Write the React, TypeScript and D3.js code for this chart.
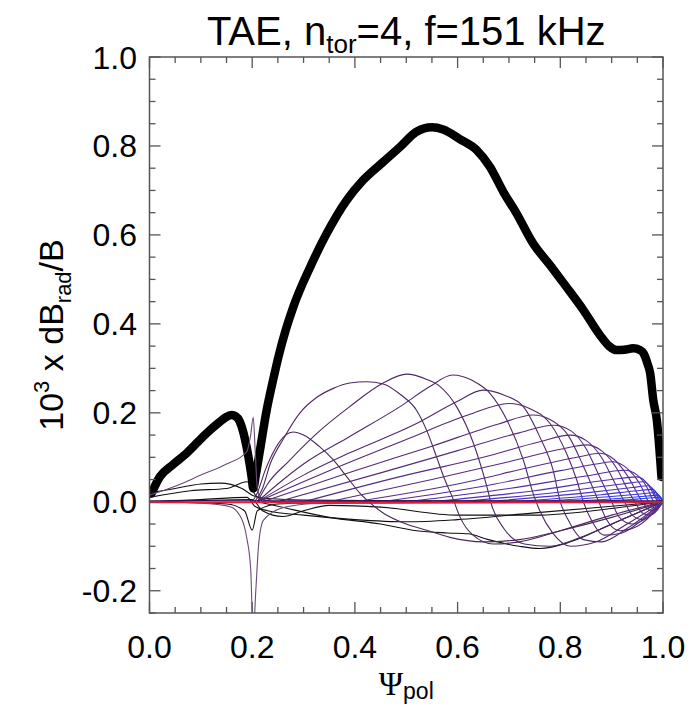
import React from "react";
import * as d3 from "d3";

// ---------- tick labels ----------
const xTickValues = [0, 0.2, 0.4, 0.6, 0.8, 1.0];
const xTickLabels = ["0.0", "0.2", "0.4", "0.6", "0.8", "1.0"];
const yTickValues = [-0.2, 0, 0.2, 0.4, 0.6, 0.8, 1.0];
const yTickLabels = ["-0.2", "0.0", "0.2", "0.4", "0.6", "0.8", "1.0"];

// ---------- total amplitude (thick black) ----------
const totalAmp: [number, number][] = [
  [0.004, 0.019], [0.02, 0.056], [0.045, 0.083], [0.072, 0.109], [0.111, 0.154],
  [0.135, 0.178], [0.15, 0.191], [0.16, 0.195], [0.168, 0.192], [0.176, 0.18],
  [0.183, 0.155], [0.189, 0.124], [0.195, 0.085], [0.199, 0.055], [0.202, 0.03],
  [0.207, 0.06], [0.215, 0.115], [0.228, 0.205], [0.24, 0.27], [0.252, 0.33],
  [0.265, 0.385], [0.28, 0.438], [0.313, 0.528], [0.345, 0.603], [0.384, 0.678],
  [0.416, 0.723], [0.455, 0.764], [0.488, 0.798], [0.52, 0.832], [0.55, 0.842],
  [0.572, 0.837], [0.605, 0.815], [0.637, 0.791], [0.663, 0.753], [0.689, 0.697],
  [0.715, 0.648], [0.747, 0.581], [0.78, 0.532], [0.812, 0.483], [0.845, 0.431],
  [0.877, 0.375], [0.895, 0.35], [0.91, 0.341], [0.925, 0.342], [0.942, 0.345],
  [0.955, 0.341], [0.962, 0.334], [0.97, 0.31], [0.975, 0.289], [0.981, 0.229],
  [0.988, 0.184], [0.997, 0.056],
];

// ---------- poloidal harmonics (thin) ----------
const lobe01: [number, number][] = [[0.2, 0], [0.21, 0.02], [0.225, 0.07], [0.245, 0.12], [0.265, 0.15], [0.28, 0.157], [0.3, 0.15], [0.33, 0.125], [0.358, 0.094], [0.385, 0.055], [0.41, 0.019], [0.455, -0.025], [0.5, -0.05], [0.54, -0.064], [0.585, -0.08], [0.65, -0.09], [0.72, -0.085], [0.8, -0.065], [0.9, -0.035], [1.0, 0]];
const lobe02: [number, number][] = [[0.205, 0], [0.22, 0.03], [0.235, 0.085], [0.26, 0.14], [0.293, 0.2], [0.326, 0.235], [0.358, 0.255], [0.39, 0.267], [0.423, 0.27], [0.455, 0.265], [0.49, 0.24], [0.52, 0.206], [0.54, 0.16], [0.559, 0.101], [0.575, 0.05], [0.59, 0.01], [0.605, -0.035], [0.63, -0.075], [0.67, -0.095], [0.72, -0.09], [0.8, -0.065], [0.9, -0.03], [1.0, 0]];
const lobe03: [number, number][] = [[0.21, 0], [0.23, 0.04], [0.27, 0.09], [0.326, 0.154], [0.39, 0.214], [0.455, 0.267], [0.501, 0.287], [0.54, 0.275], [0.566, 0.259], [0.598, 0.214], [0.631, 0.131], [0.657, 0.034], [0.667, -0.01], [0.69, -0.06], [0.73, -0.095], [0.78, -0.1], [0.85, -0.075], [0.93, -0.035], [1.0, 0]];
const lobe04: [number, number][] = [[0.21, 0], [0.25, 0.04], [0.3, 0.085], [0.39, 0.147], [0.488, 0.214], [0.546, 0.259], [0.59, 0.285], [0.63, 0.272], [0.663, 0.244], [0.696, 0.184], [0.728, 0.094], [0.747, 0.019], [0.76, -0.02], [0.785, -0.07], [0.82, -0.1], [0.87, -0.09], [0.93, -0.05], [1.0, 0]];
const lobe05: [number, number][] = [[0.21, 0], [0.3, 0.06], [0.39, 0.11], [0.52, 0.176], [0.598, 0.225], [0.65, 0.251], [0.69, 0.24], [0.728, 0.214], [0.76, 0.146], [0.786, 0.071], [0.8, 0], [0.815, -0.04], [0.845, -0.085], [0.88, -0.09], [0.93, -0.06], [1.0, 0]];
const lobe06: [number, number][] = [[0.21, 0], [0.35, 0.07], [0.5, 0.14], [0.62, 0.195], [0.7, 0.221], [0.74, 0.21], [0.78, 0.176], [0.812, 0.109], [0.832, 0.049], [0.845, 0], [0.86, -0.04], [0.885, -0.075], [0.92, -0.07], [0.96, -0.04], [1.0, 0]];
const lobe07: [number, number][] = [[0.22, 0], [0.4, 0.07], [0.55, 0.125], [0.68, 0.175], [0.747, 0.195], [0.78, 0.185], [0.815, 0.15], [0.845, 0.08], [0.875, 0], [0.89, -0.04], [0.915, -0.065], [0.95, -0.055], [1.0, 0]];
const lobe08: [number, number][] = [[0.25, 0], [0.45, 0.065], [0.6, 0.115], [0.72, 0.155], [0.786, 0.172], [0.82, 0.16], [0.85, 0.12], [0.875, 0.06], [0.9, 0], [0.915, -0.035], [0.94, -0.05], [0.97, -0.035], [1.0, 0]];
const lobe09: [number, number][] = [[0.3, 0], [0.5, 0.06], [0.65, 0.1], [0.76, 0.135], [0.819, 0.15], [0.85, 0.138], [0.88, 0.1], [0.905, 0.045], [0.925, 0], [0.94, -0.03], [0.96, -0.04], [0.985, -0.02], [1.0, 0]];
const lobe10: [number, number][] = [[0.35, 0], [0.55, 0.05], [0.7, 0.09], [0.8, 0.118], [0.851, 0.128], [0.88, 0.115], [0.91, 0.075], [0.93, 0.03], [0.945, 0], [0.96, -0.025], [0.975, -0.03], [1.0, 0]];
const lobe11: [number, number][] = [[0.4, 0], [0.6, 0.04], [0.75, 0.08], [0.84, 0.102], [0.877, 0.109], [0.905, 0.095], [0.93, 0.06], [0.96, 0], [0.975, -0.02], [0.99, -0.015], [1.0, 0]];
const lobe12: [number, number][] = [[0.45, 0], [0.65, 0.035], [0.8, 0.07], [0.87, 0.085], [0.903, 0.09], [0.93, 0.075], [0.955, 0.04], [0.972, 0], [0.985, -0.015], [1.0, 0]];
const lobe13: [number, number][] = [[0.5, 0], [0.7, 0.03], [0.85, 0.058], [0.926, 0.071], [0.95, 0.06], [0.97, 0.03], [0.982, 0], [0.992, -0.01], [1.0, 0]];
const lobe14: [number, number][] = [[0.55, 0], [0.75, 0.025], [0.9, 0.05], [0.949, 0.056], [0.97, 0.04], [0.985, 0.01], [0.993, -0.006], [1.0, 0]];
const lobe15: [number, number][] = [[0.6, 0], [0.8, 0.022], [0.92, 0.04], [0.962, 0.045], [0.978, 0.03], [0.99, 0.005], [1.0, 0]];
const lobe16: [number, number][] = [[0.65, 0], [0.85, 0.02], [0.94, 0.032], [0.972, 0.036], [0.985, 0.022], [0.994, 0.004], [1.0, 0]];
const lobe17: [number, number][] = [[0.7, 0], [0.88, 0.016], [0.95, 0.025], [0.98, 0.028], [0.99, 0.016], [1.0, 0]];
const lobe18: [number, number][] = [[0.75, 0], [0.9, 0.012], [0.96, 0.018], [0.986, 0.021], [0.994, 0.01], [1.0, 0]];
const lobe19: [number, number][] = [[0.8, 0], [0.93, 0.009], [0.97, 0.013], [0.991, 0.015], [1.0, 0]];
const lobe20: [number, number][] = [[0.85, 0], [0.95, 0.006], [0.98, 0.009], [0.995, 0.01], [1.0, 0]];

// ---------- low-m (black) harmonics, mostly negative ----------
const lowM1: [number, number][] = [[0.0, 0.0], [0.1, 0.005], [0.19, 0.01], [0.205, -0.01], [0.23, -0.02], [0.3, -0.03], [0.4, -0.04], [0.5, -0.045], [0.6, -0.04], [0.75, -0.025], [0.9, -0.01], [1.0, 0]];
const lowM2: [number, number][] = [[0.0, 0.0], [0.1, 0.003], [0.2, 0.005], [0.22, -0.02], [0.26, -0.033], [0.3, -0.02], [0.35, -0.008], [0.45, -0.012], [0.6, -0.03], [0.75, -0.03], [0.9, -0.015], [1.0, 0]];
const lowM3: [number, number][] = [[0.21, 0], [0.25, -0.01], [0.35, -0.035], [0.45, -0.05], [0.52, -0.065], [0.58, -0.07], [0.62, -0.072], [0.66, -0.085], [0.72, -0.1], [0.76, -0.105], [0.82, -0.09], [0.9, -0.05], [1.0, 0]];
const lowM4: [number, number][] = [[0.0, 0.02], [0.05, 0.03], [0.1, 0.04], [0.137, 0.042], [0.18, 0.03], [0.2, 0.015], [0.222, 0.008], [0.3, 0.004], [0.5, 0.002], [1.0, 0]];
const lowM5: [number, number][] = [[0.0, 0.015], [0.05, 0.035], [0.1, 0.06], [0.15, 0.085], [0.189, 0.112], [0.197, 0.15], [0.202, 0.19], [0.206, 0.11], [0.21, 0.03], [0.22, 0.0], [0.3, -0.004], [1.0, 0]];
const lowM6: [number, number][] = [[0.0, 0.0], [0.1, -0.003], [0.157, -0.011], [0.18, -0.04], [0.189, -0.079], [0.197, -0.15], [0.202, -0.3], [0.207, -0.2], [0.213, -0.09], [0.222, -0.041], [0.267, -0.011], [0.35, -0.002], [1.0, 0]];
const lowM7: [number, number][] = [[0.0, 0.0], [0.15, -0.005], [0.185, -0.02], [0.2, -0.064], [0.21, -0.02], [0.25, -0.005], [0.4, 0], [1.0, 0]];
const lowM8: [number, number][] = [[0.0, 0.01], [0.08, 0.025], [0.15, 0.03], [0.19, 0.045], [0.21, 0.01], [0.25, 0.0], [1.0, 0]];

const purpleLobes = [lobe01, lobe02, lobe03, lobe04, lobe05, lobe06, lobe07, lobe08, lobe09, lobe10,
  lobe11, lobe12, lobe13, lobe14, lobe15, lobe16, lobe17, lobe18, lobe19, lobe20];
const blackCurves = [lowM1, lowM2, lowM3, lowM4, lowM7, lowM8];
const spikeCurves = [lowM5, lowM6];

const W = 693;
const H = 707;
const L = 149.5, R = 663, T = 57, B = 613;

export default function App() {
  const x = d3.scaleLinear().domain([0, 1]).range([L, R]);
  const y = d3.scaleLinear().domain([-0.25, 1.0]).range([B, T]);
  const line = d3.line<[number, number]>()
    .x((d) => x(d[0]))
    .y((d) => y(d[1]))
    .curve(d3.curveMonotoneX);

  const color = d3.scaleLinear<string>()
    .domain([0, 0.5, 0.8, 1])
    .range(["#4a2858", "#5a2a86", "#4a30c8", "#1f3cff"])
    .interpolate(d3.interpolateRgb);

  const xMinor = d3.range(0, 1.0001, 0.05);
  const yMinor = d3.range(-0.25, 1.0001, 0.05);
  const isMajor = (v: number) => Math.abs(v / 0.2 - Math.round(v / 0.2)) < 1e-6;
  const sans = "'Liberation Sans', Arial, Helvetica, sans-serif";

  return (
    <svg width={W} height={H} viewBox={`0 0 ${W} ${H}`} style={{ position: "absolute", left: 0, top: 0, background: "#fff" }}>
      <defs>
        <clipPath id="plotclip">
          <rect x={L} y={T} width={R - L} height={B - T} />
        </clipPath>
      </defs>
      <rect x={0} y={0} width={W} height={H} fill="#fff" />
      <g clipPath="url(#plotclip)" fill="none">
        <path d={line(totalAmp) || ""} stroke="#000" strokeWidth={8.5} strokeLinejoin="round" strokeLinecap="round" />
        {blackCurves.map((c, i) => (
          <path key={"b" + i} d={line(c) || ""} stroke="#111" strokeWidth={1.1} />
        ))}
        {spikeCurves.map((c, i) => (
          <path key={"s" + i} d={line(c) || ""} stroke="#6a4a78" strokeWidth={1.1} />
        ))}
        {purpleLobes.map((c, i) => (
          <path key={"p" + i} d={line(c) || ""} stroke={color(i / (purpleLobes.length - 1))} strokeWidth={1.1} />
        ))}
        <line x1={x(0)} x2={x(1)} y1={y(0.002)} y2={y(0.002)} stroke="#3a1050" strokeWidth={1.2} />
        <line x1={x(0)} x2={x(1)} y1={y(0) + 0.6} y2={y(0) + 0.6} stroke="#e8183f" strokeWidth={1.8} />
      </g>
      {/* frame */}
      <rect x={L} y={T} width={R - L} height={B - T} fill="none" stroke="#555" strokeWidth={1.5} />
      {xMinor.map((v, i) => {
        const len = isMajor(v) ? 11 : 6;
        return (
          <g key={"xt" + i} stroke="#555" strokeWidth={1.3}>
            <line x1={x(v)} x2={x(v)} y1={B} y2={B - len} />
            <line x1={x(v)} x2={x(v)} y1={T} y2={T + len} />
          </g>
        );
      })}
      {yMinor.map((v, i) => {
        const len = isMajor(v) ? 11 : 6;
        return (
          <g key={"yt" + i} stroke="#555" strokeWidth={1.3}>
            <line x1={L} x2={L + len} y1={y(v)} y2={y(v)} />
            <line x1={R} x2={R - len} y1={y(v)} y2={y(v)} />
          </g>
        );
      })}
      {xTickValues.map((v, i) => (
        <text key={"xl" + i} x={x(v)} y={658} textAnchor="middle" fontFamily={sans} fontSize={32} fill="#000">
          {xTickLabels[i]}
        </text>
      ))}
      {yTickValues.map((v, i) => (
        <text key={"yl" + i} x={137} y={y(v) + 11.5} textAnchor="end" fontFamily={sans} fontSize={32} fill="#000">
          {yTickLabels[i]}
        </text>
      ))}
      {/* title */}
      <text x={(L + R) / 2} y={45} textAnchor="middle" fontFamily={sans} fontSize={40} fill="#000">
        TAE, n
        <tspan fontSize={26} dy={8}>tor</tspan>
        <tspan dy={-8}>=4, f=151 kHz</tspan>
      </text>
      {/* y title */}
      <text transform={`translate(63, ${(T + B) / 2}) rotate(-90)`} textAnchor="middle" fontFamily={sans} fontSize={34} fill="#000">
        10
        <tspan fontSize={22} dy={-14}>3</tspan>
        <tspan dy={14}> x dB</tspan>
        <tspan fontSize={22} dy={8}>rad</tspan>
        <tspan dy={-8}>/B</tspan>
      </text>
      {/* x title */}
      <text x={(L + R) / 2} y={695} textAnchor="middle" fontSize={33} fill="#000">
        <tspan fontFamily="'Liberation Serif', 'Times New Roman', serif">Ψ</tspan>
        <tspan fontFamily={sans} fontSize={23} dy={4}>pol</tspan>
      </text>
    </svg>
  );
}
